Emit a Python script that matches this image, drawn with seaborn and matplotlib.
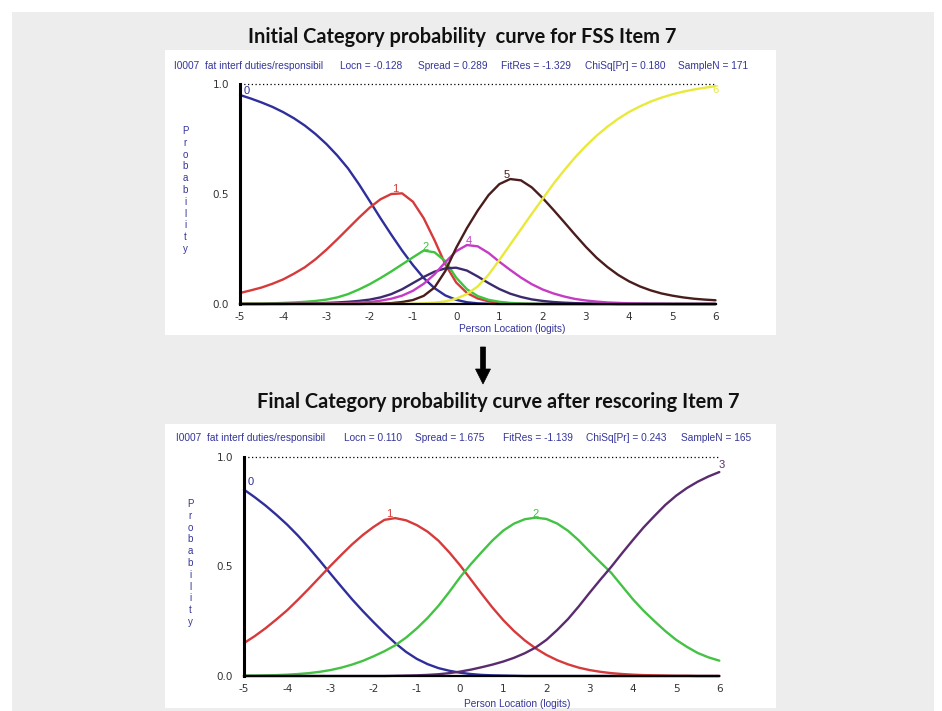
import matplotlib
matplotlib.use("Agg")
import matplotlib.pyplot as plt
from matplotlib.patches import Rectangle, Polygon
import pandas as pd
import seaborn as sns

# ---------------- data ----------------
# Person location grid (logits), shared by both calibrations
logits = [-5, -4.75, -4.5, -4.25, -4, -3.75, -3.5, -3.25, -3, -2.75, -2.5, -2.25, -2, -1.75, -1.5,
          -1.25, -1, -0.75, -0.5, -0.25, 0, 0.25, 0.5, 0.75, 1, 1.25, 1.5, 1.75, 2, 2.25,
          2.5, 2.75, 3, 3.25, 3.5, 3.75, 4, 4.25, 4.5, 4.75, 5, 5.25, 5.5, 5.75, 6]

# Initial calibration: seven response categories (0-6)
init_cat0 = [0.95, 0.934, 0.916, 0.896, 0.872, 0.844, 0.811, 0.772, 0.727, 0.675, 0.616, 0.545, 0.468, 0.39, 0.315,
             0.243, 0.177, 0.118, 0.072, 0.039, 0.019, 0.008, 0.003, 0.001, 0, 0, 0, 0, 0, 0,
             0, 0, 0, 0, 0, 0, 0, 0, 0, 0, 0, 0, 0, 0, 0]
init_cat1 = [0.05, 0.062, 0.075, 0.092, 0.112, 0.138, 0.167, 0.204, 0.247, 0.294, 0.343, 0.392, 0.438, 0.476, 0.5,
             0.503, 0.465, 0.39, 0.29, 0.18, 0.098, 0.05, 0.025, 0.012, 0.006, 0.003, 0.001, 0, 0, 0,
             0, 0, 0, 0, 0, 0, 0, 0, 0, 0, 0, 0, 0, 0, 0]
init_cat2 = [0.001, 0.002, 0.002, 0.003, 0.005, 0.007, 0.01, 0.014, 0.02, 0.03, 0.045, 0.066, 0.09, 0.118, 0.148,
             0.18, 0.212, 0.243, 0.235, 0.195, 0.12, 0.067, 0.036, 0.019, 0.01, 0.005, 0.002, 0.001, 0, 0,
             0, 0, 0, 0, 0, 0, 0, 0, 0, 0, 0, 0, 0, 0, 0]
init_cat3 = [0, 0, 0, 0.001, 0.001, 0.002, 0.002, 0.003, 0.005, 0.007, 0.01, 0.014, 0.02, 0.03, 0.045,
             0.067, 0.095, 0.123, 0.147, 0.162, 0.165, 0.152, 0.125, 0.095, 0.068, 0.047, 0.032, 0.021, 0.014, 0.009,
             0.006, 0.004, 0.002, 0.001, 0.001, 0, 0, 0, 0, 0, 0, 0, 0, 0, 0]
init_cat4 = [0, 0, 0, 0, 0, 0.001, 0.001, 0.001, 0.002, 0.003, 0.004, 0.006, 0.009, 0.015, 0.024,
             0.038, 0.06, 0.092, 0.135, 0.19, 0.24, 0.268, 0.262, 0.232, 0.192, 0.155, 0.12, 0.09, 0.066, 0.048,
             0.034, 0.023, 0.016, 0.011, 0.007, 0.005, 0.003, 0.002, 0.001, 0.001, 0, 0, 0, 0, 0]
init_cat5 = [0, 0, 0, 0, 0, 0, 0, 0, 0, 0, 0, 0, 0.001, 0.002, 0.004,
             0.009, 0.018, 0.037, 0.075, 0.15, 0.255, 0.345, 0.425, 0.495, 0.545, 0.568, 0.562, 0.53, 0.482, 0.428,
             0.372, 0.315, 0.26, 0.21, 0.168, 0.132, 0.103, 0.08, 0.062, 0.048, 0.038, 0.03, 0.024, 0.02, 0.017]
init_cat6 = [0, 0, 0, 0, 0, 0, 0, 0, 0, 0, 0, 0, 0, 0, 0,
             0, 0.001, 0.003, 0.006, 0.012, 0.024, 0.045, 0.08, 0.133, 0.2, 0.27, 0.34, 0.41, 0.478, 0.546,
             0.608, 0.666, 0.718, 0.765, 0.806, 0.842, 0.873, 0.898, 0.92, 0.938, 0.953, 0.965, 0.975, 0.983, 0.99]

# Final calibration after rescoring: four response categories (0-3)
final_cat0 = [0.85, 0.815, 0.777, 0.735, 0.69, 0.64, 0.585, 0.527, 0.467, 0.408, 0.35, 0.296, 0.245, 0.196, 0.15,
              0.11, 0.078, 0.054, 0.036, 0.024, 0.015, 0.009, 0.005, 0.003, 0.002, 0.001, 0, 0, 0, 0,
              0, 0, 0, 0, 0, 0, 0, 0, 0, 0, 0, 0, 0, 0, 0]
final_cat1 = [0.15, 0.182, 0.218, 0.258, 0.3, 0.348, 0.398, 0.45, 0.502, 0.552, 0.6, 0.643, 0.68, 0.712, 0.72,
              0.71, 0.688, 0.658, 0.617, 0.564, 0.505, 0.44, 0.375, 0.312, 0.255, 0.205, 0.162, 0.126, 0.096, 0.072,
              0.053, 0.038, 0.027, 0.019, 0.013, 0.009, 0.006, 0.004, 0.003, 0.002, 0.001, 0.001, 0, 0, 0]
final_cat2 = [0.002, 0.002, 0.003, 0.004, 0.006, 0.009, 0.013, 0.019, 0.027, 0.038, 0.052, 0.069, 0.09, 0.113, 0.14,
              0.175, 0.217, 0.265, 0.32, 0.383, 0.45, 0.51, 0.565, 0.618, 0.663, 0.695, 0.715, 0.722, 0.716, 0.695,
              0.662, 0.618, 0.567, 0.518, 0.47, 0.41, 0.35, 0.297, 0.25, 0.205, 0.165, 0.133, 0.105, 0.085, 0.07]
final_cat3 = [0, 0, 0, 0, 0, 0, 0, 0, 0, 0, 0, 0, 0, 0, 0.001,
              0.002, 0.003, 0.005, 0.008, 0.013, 0.02, 0.029, 0.04, 0.052, 0.066, 0.083, 0.104, 0.13, 0.165, 0.21,
              0.26, 0.318, 0.38, 0.44, 0.498, 0.56, 0.62, 0.678, 0.73, 0.78, 0.822, 0.857, 0.886, 0.91, 0.93]

x_ticks = [-5, -4, -3, -2, -1, 0, 1, 2, 3, 4, 5, 6]
y_ticks = [0.0, 0.5, 1.0]
y_tick_labels = ["0.0", "0.5", "1.0"]

title_init = "Initial Category probability  curve for FSS Item 7"
title_final = "Final Category probability curve after rescoring Item 7"
header_init = ["I0007  fat interf duties/responsibil", "Locn = -0.128", "Spread = 0.289",
               "FitRes = -1.329", "ChiSq[Pr] = 0.180", "SampleN = 171"]
header_final = ["I0007  fat interf duties/responsibil", "Locn = 0.110", "Spread = 1.675",
                "FitRes = -1.139", "ChiSq[Pr] = 0.243", "SampleN = 165"]
x_label = "Person Location (logits)"
y_label = "Probability"

init_colors = {"0": "#2e2e9c", "1": "#d63a3a", "2": "#3fc43f", "3": "#3b2a6e",
               "4": "#c53bc5", "5": "#4a1d1d", "6": "#e9e93c"}
final_colors = {"0": "#2e2e9c", "1": "#d63a3a", "2": "#44c244", "3": "#5a2b6e"}

# ---------------- figure ----------------
W, H = 942, 711
sns.set_style("white")
plt.rcParams["font.family"] = ["DejaVu Sans"]

fig = plt.figure(figsize=(W / 100, H / 100), dpi=100)
fig.patch.set_facecolor("white")


def fx(px):
    return px / W


def fy(py):
    return 1 - py / H


def fig_rect(x0, y0, x1, y1, color):
    fig.add_artist(Rectangle((fx(x0), fy(y1)), fx(x1) - fx(x0), fy(y0) - fy(y1),
                             transform=fig.transFigure, facecolor=color, edgecolor="none", zorder=0))


fig_rect(12, 12, 934, 711, "#ededed")
fig_rect(165, 50, 776, 335, "white")
fig_rect(165, 424, 776, 708, "white")

BLUE_TXT = "#35359a"
NARROW = ["Liberation Sans Narrow", "Liberation Sans", "DejaVu Sans"]
TITLE_FONT = ["Lato", "Open Sans", "DejaVu Sans"]


def long_frame(xs, series):
    rows = []
    for cat, ys in series.items():
        for xv, yv in zip(xs, ys):
            rows.append({"logit": xv, "prob": yv, "category": cat})
    return pd.DataFrame(rows)


def draw_panel(ax, xs, series, colors, label_spots, header, header_x, header_y, xlabel_px, ylabel_px, ylabel_py):
    df = long_frame(xs, series)
    sns.lineplot(data=df, x="logit", y="prob", hue="category", palette=colors,
                 hue_order=list(series.keys()), linewidth=1.7, legend=False, ax=ax)
    for ln in ax.lines:
        ln.set_clip_on(False)
        ln.set_solid_capstyle("round")
        ln.set_solid_joinstyle("round")
    # dotted reference line at probability 1
    ax.plot([xs[0], xs[-1]], [1, 1], color="black", lw=0.9, ls=(0, (1, 2)), clip_on=False)

    ax.set_xlim(xs[0], xs[-1])
    ax.set_ylim(0, 1)
    ax.set_facecolor("none")
    for side in ("top", "right"):
        ax.spines[side].set_visible(False)
    ax.spines["left"].set_linewidth(2.2)
    ax.spines["left"].set_color("black")
    ax.spines["bottom"].set_linewidth(1.6)
    ax.spines["bottom"].set_color("black")

    ax.set_xticks(x_ticks)
    ax.set_xticklabels([str(t) for t in x_ticks])
    ax.set_yticks(y_ticks)
    ax.set_yticklabels(y_tick_labels)
    ax.set_yticks([i / 10 for i in range(11)], minor=True)
    ax.tick_params(axis="x", which="major", length=5, width=1, direction="out",
                   labelsize=7.5, pad=1, colors="black", labelcolor="#333333")
    ax.tick_params(axis="y", which="major", length=7, width=1, direction="out",
                   labelsize=7.5, pad=1, colors="black", labelcolor="#333333")
    ax.tick_params(axis="y", which="minor", length=3, width=0.8, direction="out", colors="black")
    ax.set_xlabel("")
    ax.set_ylabel("")

    # category numbers next to their curves
    for cat, (lx, ly) in label_spots.items():
        ax.text(lx, ly, cat, color=colors[cat], fontsize=8, ha="center", va="bottom",
                family=NARROW, clip_on=False)

    # header line of item statistics
    for txt, hx in zip(header, header_x):
        fig.text(fx(hx), fy(header_y), txt, color=BLUE_TXT, fontsize=7.3, family=NARROW,
                 ha="left", va="center")
    # axis titles
    fig.text(fx(xlabel_px[0]), fy(xlabel_px[1]), x_label, color=BLUE_TXT, fontsize=7.3,
             family=NARROW, ha="center", va="center")
    fig.text(fx(ylabel_px), fy(ylabel_py), "\n".join(y_label), color=BLUE_TXT, fontsize=7,
             family=NARROW, ha="center", va="center", linespacing=1.22)


def peak(xs, ys):
    i = max(range(len(ys)), key=lambda k: ys[k])
    return xs[i], ys[i]


# ---- top panel ----
ax1 = fig.add_axes([fx(240), fy(304), (715.5 - 240) / W, 220 / H])
series_init = {"0": init_cat0, "1": init_cat1, "2": init_cat2, "3": init_cat3,
               "4": init_cat4, "5": init_cat5, "6": init_cat6}
spots_init = {"0": (logits[0] + 0.15, init_cat0[0] - 0.005)}
for c, dx in [("1", -0.15), ("2", 0.05), ("4", 0.05), ("5", -0.08)]:
    px_, py_ = peak(logits, series_init[c])
    spots_init[c] = (px_ + dx, py_ - 0.005)
spots_init["6"] = (logits[-1], init_cat6[-1] - 0.04)
draw_panel(ax1, logits, series_init, init_colors, spots_init, header_init,
           [174, 340, 418, 501, 585, 678], 66, (512, 329), 185, 190)

# ---- bottom panel ----
ax2 = fig.add_axes([fx(244), fy(676), (719.3 - 244) / W, 219.3 / H])
series_final = {"0": final_cat0, "1": final_cat1, "2": final_cat2, "3": final_cat3}
spots_final = {"0": (logits[0] + 0.15, final_cat0[0] + 0.01)}
for c, dx in [("1", -0.15), ("2", 0.0)]:
    px_, py_ = peak(logits, series_final[c])
    spots_final[c] = (px_ + dx, py_ - 0.005)
spots_final["3"] = (logits[-1] + 0.05, final_cat3[-1] + 0.01)
draw_panel(ax2, logits, series_final, final_colors, spots_final, header_final,
           [176, 344, 415, 503, 586, 681], 438, (517, 704), 190, 563)

# ---- titles and the arrow between the panels ----
fig.text(fx(462), fy(37), title_init, fontsize=14.4, fontweight="bold", family=TITLE_FONT,
         ha="center", va="center", color="#111111")
fig.text(fx(498), fy(402), title_final, fontsize=14.4, fontweight="bold", family=TITLE_FONT,
         ha="center", va="center", color="#111111")

ax_cx, top_y, neck_y, tip_y = 483, 347, 369, 384
arrow_px = [(ax_cx - 2.5, top_y), (ax_cx + 2.5, top_y), (ax_cx + 2.5, neck_y), (ax_cx + 7.5, neck_y),
            (ax_cx, tip_y), (ax_cx - 7.5, neck_y), (ax_cx - 2.5, neck_y)]
fig.add_artist(Polygon([(fx(a), fy(b)) for a, b in arrow_px], closed=True,
                       transform=fig.transFigure, facecolor="black", edgecolor="black", lw=0.5))

fig.savefig("out.png", dpi=100, facecolor=fig.get_facecolor())
